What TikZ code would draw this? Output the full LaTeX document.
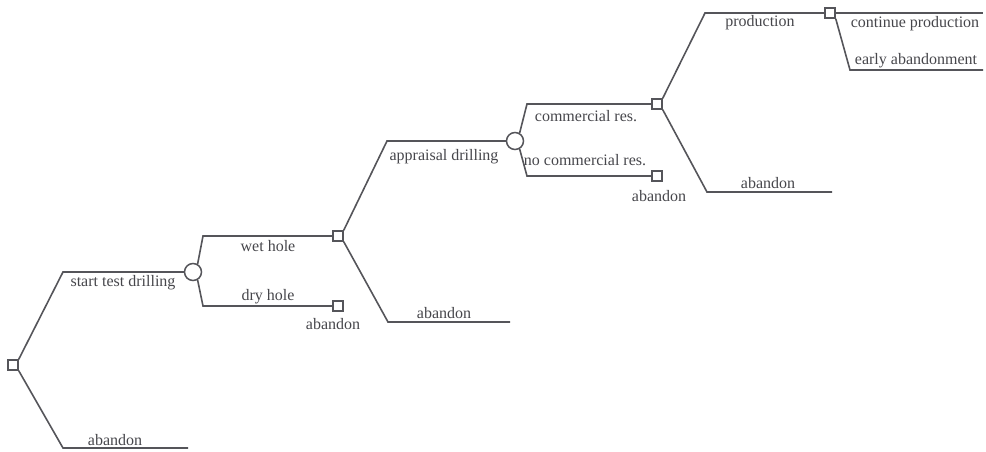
\documentclass[tikz,border=0pt]{standalone}
\usepackage{fontspec}
\setmainfont{Liberation Serif}
\begin{document}
\begin{tikzpicture}[x=1pt,y=-1pt,
  dnode/.style={draw=linec,line width=1.5pt,minimum size=10pt,inner sep=0pt},
  cnode/.style={circle,draw=linec,line width=1.5pt,minimum size=17pt,inner sep=0pt},
  br/.style={draw=linec,line width=1.6pt},
  lbl/.style={text=textc,font=\fontsize{16}{18}\selectfont,inner sep=0pt}]
\definecolor{linec}{RGB}{85,85,90}
\definecolor{textc}{RGB}{70,70,75}
\useasboundingbox (0,0) rectangle (986,451);
% decision and chance nodes
\node[dnode] (R) at (13,365) {};
\node[cnode] (C1) at (193,272) {};
\node[dnode] (S1) at (338,236) {};
\node[dnode] (S1b) at (338,306) {};
\node[cnode] (C2) at (515,141) {};
\node[dnode] (S2) at (657,104) {};
\node[dnode] (S2b) at (657,176) {};
\node[dnode] (S3) at (830,13) {};
% bend and end points
\coordinate (r1) at (63,272);
\coordinate (r2) at (63,448);
\coordinate (e0) at (188,448);
\coordinate (a1) at (203,236);
\coordinate (a2) at (203,306);
\coordinate (b1) at (387,141);
\coordinate (b2) at (388,322);
\coordinate (e1) at (510,322);
\coordinate (c1) at (527,104);
\coordinate (c2) at (527,176);
\coordinate (d1) at (705,13);
\coordinate (d2) at (707,192);
\coordinate (e2) at (832,192);
\coordinate (e3) at (983,13);
\coordinate (f2) at (850,70);
\coordinate (e4) at (983,70);
% branches
\draw[br] (R.north east) -- (r1) -- (C1.west);
\draw[br] (R.south east) -- (r2) -- (e0);
\draw[br] (C1.60) -- (a1) -- (S1.west);
\draw[br] (C1.-60) -- (a2) -- (S1b.west);
\draw[br] (S1.north east) -- (b1) -- (C2.west);
\draw[br] (S1.south east) -- (b2) -- (e1);
\draw[br] (C2.60) -- (c1) -- (S2.west);
\draw[br] (C2.-60) -- (c2) -- (S2b.west);
\draw[br] (S2.north east) -- (d1) -- (S3.west);
\draw[br] (S2.south east) -- (d2) -- (e2);
\draw[br] (S3.east) -- (e3);
\draw[br] (S3.south east) -- (f2) -- (e4);
% labels
\node[lbl] (l1) at (123,283) {start test drilling};
\node[lbl] (l2) at (115,440) {abandon};
\node[lbl] (l3) at (268,246) {wet hole};
\node[lbl] (l4) at (268,297) {dry hole};
\node[lbl] (l5) at (333,324) {abandon};
\node[lbl] (l6) at (444,313) {abandon};
\node[lbl] (l7) at (444,157) {appraisal drilling};
\node[lbl] (l8) at (586,116) {commercial res.};
\node[lbl] (l9) at (585,160) {no commercial res.};
\node[lbl] (l10) at (659,196) {abandon};
\node[lbl] (l11) at (760,23) {production};
\node[lbl] (l12) at (915,24) {continue production};
\node[lbl] (l13) at (916,61) {early abandonment};
\node[lbl] (l14) at (768,183) {abandon};
\end{tikzpicture}
\end{document}
